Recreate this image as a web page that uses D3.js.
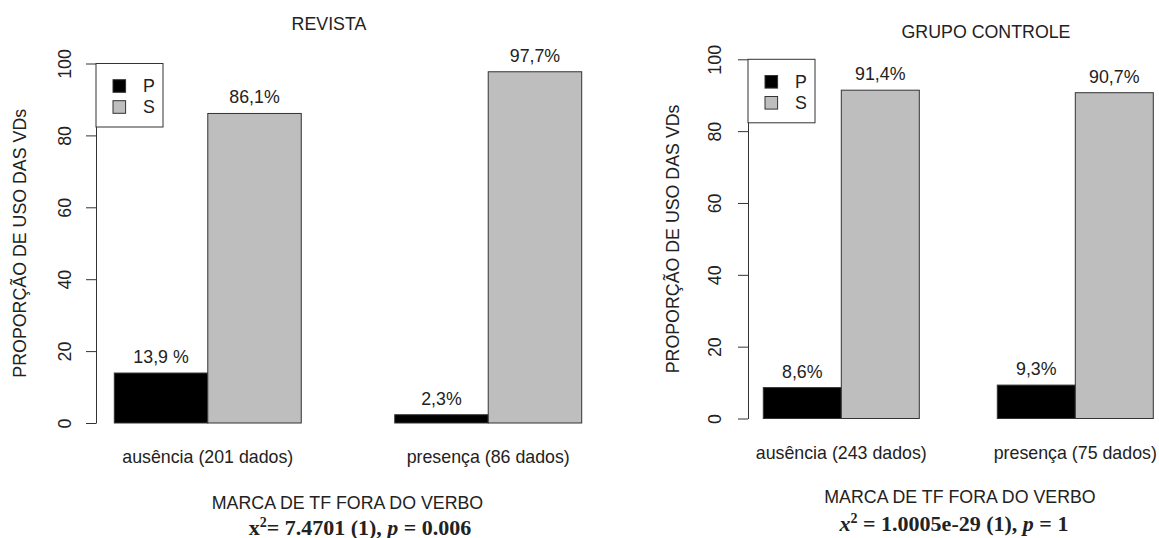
<!DOCTYPE html>
<html>
<head>
<meta charset="utf-8">
<script src="https://cdn.jsdelivr.net/npm/d3@7"></script>
<style>
  body { margin: 0; background: #fff; }
  svg { display: block; }
  text { font-family: "Liberation Sans", Arial, sans-serif; fill: #222; }
</style>
</head>
<body>
<svg id="chart" width="1159" height="538"></svg>
<script>
// Data
const series = ["P", "S"];
const seriesColors = ["#000000", "#bebebe"];
const yTicks = [0, 20, 40, 60, 80, 100];

const revistaCats = ["ausência (201 dados)", "presença (86 dados)"];
const revistaP = [13.9, 2.3];
const revistaS = [86.1, 97.7];
const revistaLabelsP = ["13,9 %", "2,3%"];
const revistaLabelsS = ["86,1%", "97,7%"];

const controleCats = ["ausência (243 dados)", "presença (75 dados)"];
const controleP = [8.6, 9.3];
const controleS = [91.4, 90.7];
const controleLabelsP = ["8,6%", "9,3%"];
const controleLabelsS = ["91,4%", "90,7%"];

const yTitle = "PROPORÇÃO DE USO DAS VDs";
const xTitle = "MARCA DE TF FORA DO VERBO";

const svg = d3.select("#chart");
const FS = 17.8;

function drawPanel(p) {
    const g = svg.append("g");

    const y = d3.scaleLinear().domain([0, 100]).range([p.y0, p.y100]);
    const x = d3.scaleBand().domain(p.cats).range(p.barRange).paddingInner(1 / 3).paddingOuter(0);
    const xs = d3.scaleBand().domain(series).range([0, x.bandwidth()]).padding(0);

    // y axis
    const ax = g.append("g")
        .attr("transform", `translate(${p.axisX},0)`)
        .call(d3.axisLeft(y).tickValues(yTicks).tickSize(10).tickSizeOuter(0));
    ax.select(".domain").attr("stroke", "#333");
    ax.selectAll(".tick line").attr("stroke", "#333");
    ax.selectAll(".tick text")
        .attr("x", 0).attr("dy", "0.35em")
        .attr("text-anchor", "middle")
        .attr("transform", `translate(${p.tickLabX - p.axisX},0) rotate(-90)`)
        .style("font-size", FS + "px")
        .style("font-family", "Liberation Sans, Arial, sans-serif")
        .attr("fill", "#222");

    // bars
    const rows = p.cats.map((c, i) => ({
        cat: c,
        vals: [
            {s: "P", v: p.P[i], label: p.labP[i]},
            {s: "S", v: p.S[i], label: p.labS[i]}
        ]
    }));
    const grp = g.selectAll(".grp").data(rows).enter().append("g")
        .attr("transform", d => `translate(${x(d.cat)},0)`);
    grp.selectAll("rect").data(d => d.vals).enter().append("rect")
        .attr("x", d => xs(d.s))
        .attr("y", d => y(d.v))
        .attr("width", xs.bandwidth())
        .attr("height", d => y(0) - y(d.v))
        .attr("fill", (d, i) => seriesColors[i])
        .attr("stroke", "#333")
        .attr("stroke-width", 1);
    grp.selectAll("text.val").data(d => d.vals).enter().append("text")
        .attr("class", "val")
        .attr("x", d => xs(d.s) + xs.bandwidth() / 2)
        .attr("y", d => y(d.v) - 16)
        .attr("text-anchor", "middle")
        .attr("dominant-baseline", "central")
        .style("font-size", FS + "px")
        .text(d => d.label);

    // category labels
    g.selectAll(".cat").data(p.cats).enter().append("text")
        .attr("x", d => x(d) + x.bandwidth() / 2)
        .attr("y", p.catY)
        .attr("text-anchor", "middle")
        .attr("dominant-baseline", "central")
        .style("font-size", FS + "px")
        .text(d => d);

    // titles
    g.append("text")
        .attr("x", p.titleX).attr("y", p.titleY)
        .attr("text-anchor", "middle").attr("dominant-baseline", "central")
        .style("font-size", FS + "px")
        .text(p.title);

    g.append("text")
        .attr("transform", `translate(${p.yLabX},${(p.y0 + p.y100) / 2}) rotate(-90)`)
        .attr("text-anchor", "middle").attr("dominant-baseline", "central")
        .style("font-size", FS + "px")
        .text(yTitle);

    g.append("text")
        .attr("x", p.marcaX).attr("y", p.marcaY)
        .attr("text-anchor", "middle").attr("dominant-baseline", "central")
        .style("font-size", FS + "px")
        .text(xTitle);

    // chi-square line (baseline placed explicitly)
    const chi = g.append("text")
        .attr("x", p.chiX).attr("y", p.chiY + 7.5)
        .attr("text-anchor", "middle")
        .style("font-family", "Liberation Serif, 'Times New Roman', serif")
        .style("font-weight", "bold")
        .style("font-size", "22px")
        .attr("fill", "#111");
    chi.append("tspan").style("font-style", p.chiItalicX ? "italic" : "normal").text("x");
    chi.append("tspan").attr("dy", -8).style("font-size", "14px").text("2");
    chi.append("tspan").attr("dy", 8).text(p.chiA);
    chi.append("tspan").style("font-style", "italic").text("p");
    chi.append("tspan").text(p.chiB);

    // legend
    const lg = g.append("g").attr("transform", `translate(${p.axisX},${y(100)})`);
    lg.append("rect")
        .attr("width", 67).attr("height", 63.5)
        .attr("fill", "#fff").attr("stroke", "#333");
    series.forEach((s, i) => {
        const cy = 22.5 + i * 21;
        lg.append("rect")
            .attr("x", 17).attr("y", cy - 6.3)
            .attr("width", 12.6).attr("height", 12.6)
            .attr("fill", seriesColors[i]).attr("stroke", "#333");
        lg.append("text")
            .attr("x", 47).attr("y", cy)
            .attr("dominant-baseline", "central")
            .style("font-size", FS + "px")
            .text(s);
    });
}

drawPanel({
    title: "REVISTA", cats: revistaCats, P: revistaP, S: revistaS,
    labP: revistaLabelsP, labS: revistaLabelsS,
    axisX: 96, y0: 423, y100: 63.5, barRange: [114.3, 581.7],
    tickLabX: 65, yLabX: 20, catY: 457, titleX: 329, titleY: 24,
    marcaX: 347.5, marcaY: 502.5, chiX: 360, chiY: 527,
    chiItalicX: false, chiA: "= 7.4701 (1), ", chiB: " = 0.006"
});

drawPanel({
    title: "GRUPO CONTROLE", cats: controleCats, P: controleP, S: controleS,
    labP: controleLabelsP, labS: controleLabelsS,
    axisX: 748, y0: 418.5, y100: 59.3, barRange: [763.3, 1153.3],
    tickLabX: 715, yLabX: 673, catY: 453, titleX: 986, titleY: 32,
    marcaX: 960, marcaY: 497, chiX: 954, chiY: 523,
    chiItalicX: true, chiA: " = 1.0005e-29 (1), ", chiB: " = 1"
});
</script>
</body>
</html>
